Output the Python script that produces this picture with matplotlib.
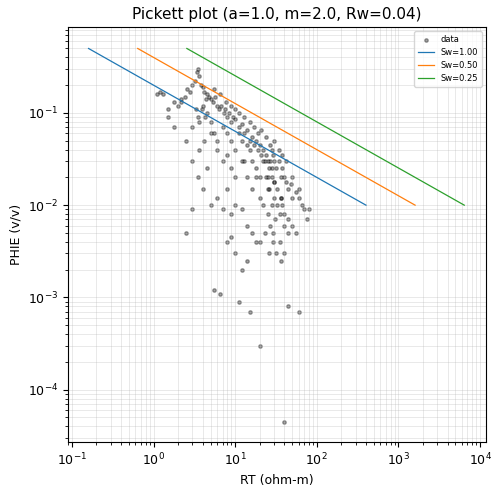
import numpy as np
import matplotlib.pyplot as plt

a, m, Rw = 1.0, 2.0, 0.04
sw_values = [1.00, 0.50, 0.25]
line_colors = ['#1f77b4', '#ff7f0e', '#2ca02c']

rt = [1.1,1.2,1.3,1.5,1.8,2.0,2.2,2.4,2.6,2.8,3.0,3.2,3.4,3.5,3.6,3.8,4.0,4.2,4.5,4.8,
      5.0,5.3,5.6,6.0,6.4,6.8,7.2,7.6,8.0,8.5,9.0,9.5,10,11,12,13,14,15,16,17,
      18,19,20,21,22,23,24,25,26,27,28,29,30,32,34,36,38,40,42,45,48,50,55,60,65,70,
      2.5,3.0,3.5,4.0,4.5,5.0,5.5,6.0,7.0,8.0,9.0,10,11,12,13,14,15,16,18,20,22,24,26,28,30,33,36,40,45,50,
      3.0,3.6,4.2,5.0,6.0,7.0,8.0,9.0,10,12,14,16,18,20,22,25,28,30,35,40,45,55,
      2.2,3.3,4.4,5.5,6.6,7.7,8.8,10,11,13,15,17,19,21,24,27,30,34,38,42,50,60,
      3.5,4.0,4.5,5.0,6.0,7.0,8.0,9.0,10,12,14,16,18,20,23,26,29,32,36,
      2.5,3.0,5.5,6.5,11,15,20,40,45,60,1.5,1.8,25,28,30,33,36,38,75,80,
      8,9,10,12,14,25,27,29,31,35,40,3.6,3.9,4.3]
phie = [0.16,0.17,0.16,0.11,0.13,0.12,0.14,0.15,0.18,0.17,0.2,0.22,0.28,0.3,0.25,0.2,0.19,0.17,0.16,0.15,
        0.14,0.13,0.15,0.12,0.11,0.12,0.1,0.11,0.09,0.1,0.08,0.09,0.085,0.07,0.075,0.06,0.065,0.05,0.055,0.045,
        0.05,0.04,0.045,0.035,0.04,0.03,0.035,0.03,0.025,0.03,0.04,0.035,0.03,0.025,0.03,0.02,0.025,0.02,0.018,0.015,0.017,0.012,0.014,0.012,0.01,0.009,
        0.05,0.07,0.09,0.12,0.1,0.08,0.06,0.05,0.07,0.06,0.05,0.04,0.06,0.05,0.03,0.045,0.04,0.03,0.025,0.02,0.03,0.02,0.015,0.02,0.018,0.01,0.012,0.008,0.007,0.006,
        0.03,0.04,0.05,0.06,0.04,0.03,0.035,0.025,0.02,0.03,0.02,0.015,0.02,0.012,0.01,0.015,0.01,0.012,0.008,0.006,0.005,0.005,
        0.13,0.11,0.14,0.18,0.16,0.13,0.12,0.11,0.1,0.09,0.08,0.07,0.06,0.065,0.055,0.045,0.05,0.04,0.035,0.03,0.02,0.015,
        0.02,0.015,0.025,0.01,0.012,0.009,0.015,0.008,0.01,0.009,0.006,0.005,0.004,0.004,0.005,0.003,0.004,0.003,0.0025,
        0.005,0.009,0.0012,0.0011,0.0009,0.0007,0.0003,0.000045,0.0008,0.0007,0.09,0.07,0.02,0.025,0.018,0.015,0.012,0.01,0.007,0.009,
        0.004,0.0045,0.003,0.002,0.0025,0.008,0.006,0.005,0.007,0.004,0.003,0.08,0.11,0.09]

fig, ax = plt.subplots(figsize=(5.02, 4.95), dpi=100)
fig.subplots_adjust(left=0.135, right=0.968, top=0.945, bottom=0.107)
ax.scatter(rt, phie, s=6, c='black', alpha=0.35, label='data')
phi = np.logspace(np.log10(0.5), np.log10(0.01), 50)
for sw, col in zip(sw_values, line_colors):
    r = a * Rw / (sw**m * phi**m)
    ax.plot(r, phi, color=col, lw=0.9, label=f'Sw={sw:.2f}')
ax.set_xscale('log'); ax.set_yscale('log')
ax.set_xlim(0.089, 1.18e4); ax.set_ylim(2.7e-5, 0.85)
ax.grid(True, which='both', alpha=0.4, lw=0.5)
ax.tick_params(labelsize=9)
ax.set_xlabel('RT (ohm-m)', fontsize=9); ax.set_ylabel('PHIE (v/v)', fontsize=9)
ax.set_title(f'Pickett plot (a={a}, m={m}, Rw={Rw})', fontsize=11)
ax.legend(fontsize=6, loc='upper right')
fig.savefig('out.png')
